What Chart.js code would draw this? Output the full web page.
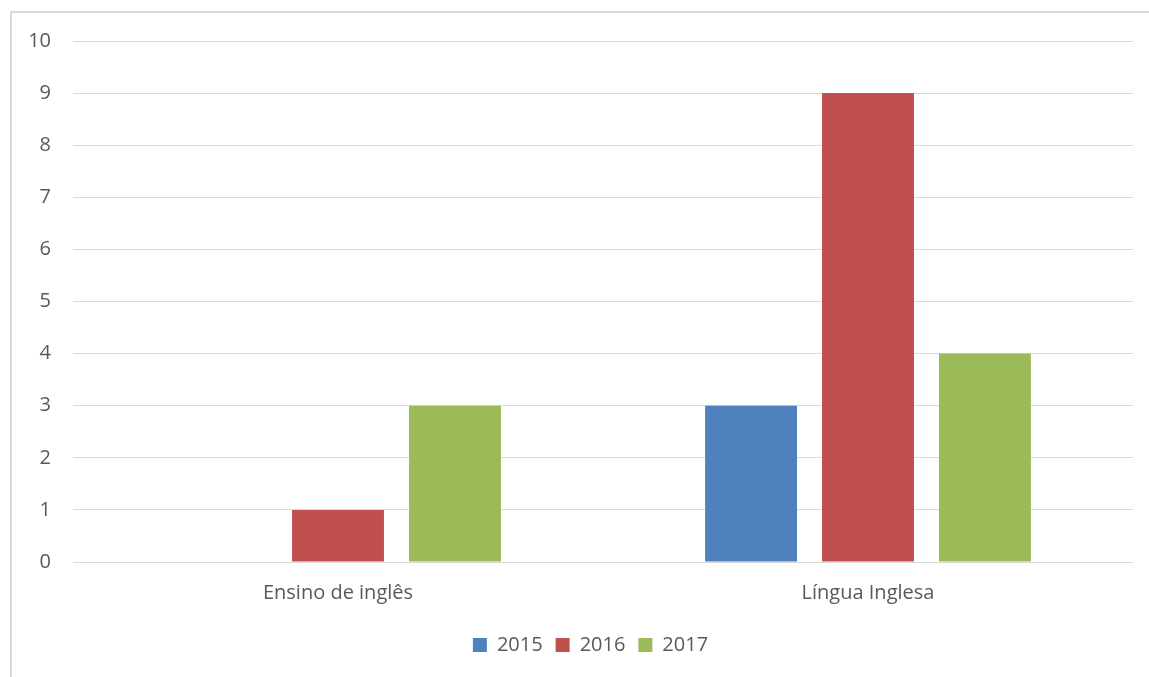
<!DOCTYPE html>
<html lang="pt">
  <head>
    <meta charset="UTF-8" />
    <title>Ensino de inglês / Língua Inglesa</title>
    <script src="https://cdn.jsdelivr.net/npm/chart.js"></script>
    <style>
      html,
      body {
        margin: 0;
        background: #ffffff;
        overflow: hidden;
      }
      #frame {
        position: absolute;
        left: 10px;
        top: 11px;
        width: 1139px;
        height: 666px;
        border-left: 2px solid #d9d9d9;
        border-top: 2px solid #d9d9d9;
      }
      #chart-box {
        position: absolute;
        left: 0;
        top: 0;
        width: 1149px;
        height: 677px;
      }
    </style>
  </head>
  <body>
    <div id="frame"></div>
    <div id="chart-box">
      <canvas id="barChart"></canvas>
    </div>
    <script>
      // categories and series
      const categories = ['Ensino de inglês', 'Língua Inglesa']
      const years = ['2015', '2016', '2017']
      const values2015 = [0, 3]
      const values2016 = [1, 9]
      const values2017 = [3, 4]
      const colours = ['#4f81bd', '#c0504d', '#9bbb59']

      const textColour = '#595959'
      const gridColour = '#d9d9d9'
      const fontFamily = "'Open Sans', 'Liberation Sans', sans-serif"
      const fontSize = 20

      const seriesValues = [values2015, values2016, values2017]

      // legend in the original sits a bit right of the canvas centre
      const legendShift = {
        id: 'legendShift',
        afterLayout(chart) {
          chart.legend.left += 24
          chart.legend.right += 24
        }
      }

      const ctx = document.getElementById('barChart').getContext('2d')
      new Chart(ctx, {
        type: 'bar',
        data: {
          labels: categories,
          datasets: years.map((year, i) => ({
            label: year,
            data: seriesValues[i],
            backgroundColor: colours[i],
            borderWidth: 0,
            categoryPercentage: 0.662,
            barPercentage: 0.786
          }))
        },
        options: {
          responsive: true,
          maintainAspectRatio: false,
          animation: false,
          layout: {
            padding: { top: 41, right: 16, bottom: 12, left: 0 }
          },
          plugins: {
            tooltip: { enabled: false },
            legend: {
              position: 'bottom',
              labels: {
                color: textColour,
                boxWidth: 14,
                boxHeight: 14,
                padding: 13,
                font: { family: fontFamily, size: fontSize }
              }
            }
          },
          scales: {
            x: {
              grid: { display: false, drawTicks: false },
              border: { display: false },
              ticks: {
                color: textColour,
                padding: 19,
                font: { family: fontFamily, size: fontSize }
              },
              afterFit: scale => {
                scale.height = 60
              }
            },
            y: {
              min: 0,
              max: 10,
              grid: { color: gridColour, lineWidth: 1, drawTicks: false },
              border: { display: false },
              ticks: {
                stepSize: 1,
                color: textColour,
                padding: 22,
                font: { family: fontFamily, size: fontSize }
              },
              afterFit: scale => {
                scale.width = 73
              }
            }
          }
        },
        plugins: [legendShift]
      })
    </script>
  </body>
</html>
